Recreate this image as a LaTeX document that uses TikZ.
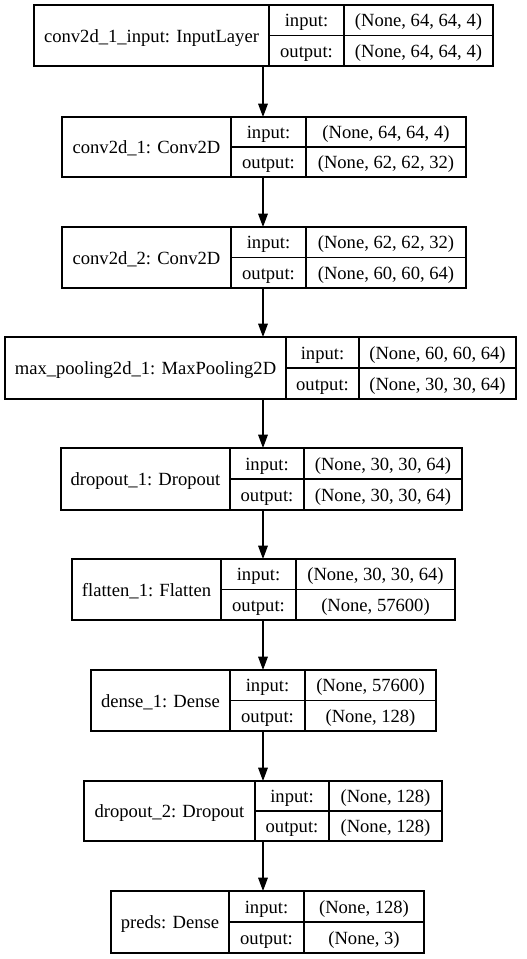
\documentclass[tikz,border=0pt]{standalone}
\usepackage{fontspec}
\setmainfont{Liberation Serif}
\newfontfamily\lblfont{Liberation Serif}
\usetikzlibrary{arrows.meta}
\begin{document}
\begin{tikzpicture}[x=1pt,y=-1pt,
  boxline/.style={draw=black,line width=1.3pt},
  txt/.style={inner sep=0pt,font=\lblfont\fontsize{18.6}{20}\selectfont,text height=15pt,text depth=2pt},
  arr/.style={draw=black,line width=1.3pt,-{Triangle[length=13.3pt,width=9.6pt]}}]
\useasboundingbox[fill=white] (0,0) rectangle (527,959);
\coordinate (axis) at (263,0);
\foreach \n/\t/\b/\xa/\xb/\xc/\xd/\lab/\inp/\outp in {
 1/5/66/34/269/344/493/{conv2d\_1\_input: InputLayer}/{(None, 64, 64, 4)}/{(None, 64, 64, 4)},
 2/117/177/62/231/306/466/{conv2d\_1: Conv2D}/{(None, 64, 64, 4)}/{(None, 62, 62, 32)},
 3/227/288/62/231/306/466/{conv2d\_2: Conv2D}/{(None, 62, 62, 32)}/{(None, 60, 60, 64)},
 4/337/399/5/286/359/516/{max\_pooling2d\_1: MaxPooling2D}/{(None, 60, 60, 64)}/{(None, 30, 30, 64)},
 5/448/510/61/230/304/462/{dropout\_1: Dropout}/{(None, 30, 30, 64)}/{(None, 30, 30, 64)},
 6/559/620/72/221/296/455/{flatten\_1: Flatten}/{(None, 30, 30, 64)}/{(None, 57600)},
 7/670/731/91/230/305/436/{dense\_1: Dense}/{(None, 57600)}/{(None, 128)},
 8/781/841/84/255/329/442/{dropout\_2: Dropout}/{(None, 128)}/{(None, 128)},
 9/891/953/111/229/304/424/{preds: Dense}/{(None, 128)}/{(None, 3)}}{
  \pgfmathsetmacro\ymid{(\t+\b)/2}
  \pgfmathsetmacro\bw{\xd-\xa}
  \pgfmathsetmacro\bh{\b-\t}
  \node[boxline,inner sep=0pt,outer sep=0pt,minimum width=\bw pt,minimum height=\bh pt] (b\n) at ({(\xa+\xd)/2},\ymid) {};
  \draw[boxline] (\xb,\t) -- (\xb,\b) (\xc,\t) -- (\xc,\b) (\xb,\ymid) -- (\xd,\ymid);
  \node[txt] (l\n) at ({(\xa+\xb)/2},\ymid) {\lab};
  \node[txt] (k\n) at ({(\xb+\xc)/2},{(\t+\ymid)/2}) {input:};
  \node[txt] (i\n) at ({(\xc+\xd)/2},{(\t+\ymid)/2}) {\inp};
  \node[txt] (q\n) at ({(\xb+\xc)/2},{(\ymid+\b)/2}) {output:};
  \node[txt] (o\n) at ({(\xc+\xd)/2},{(\ymid+\b)/2}) {\outp};
}
\foreach \a/\c in {1/2,2/3,3/4,4/5,5/6,6/7,7/8,8/9}{
  \draw[arr] (b\a.south -| axis) -- (b\c.north -| axis);
}
\end{tikzpicture}
\end{document}
